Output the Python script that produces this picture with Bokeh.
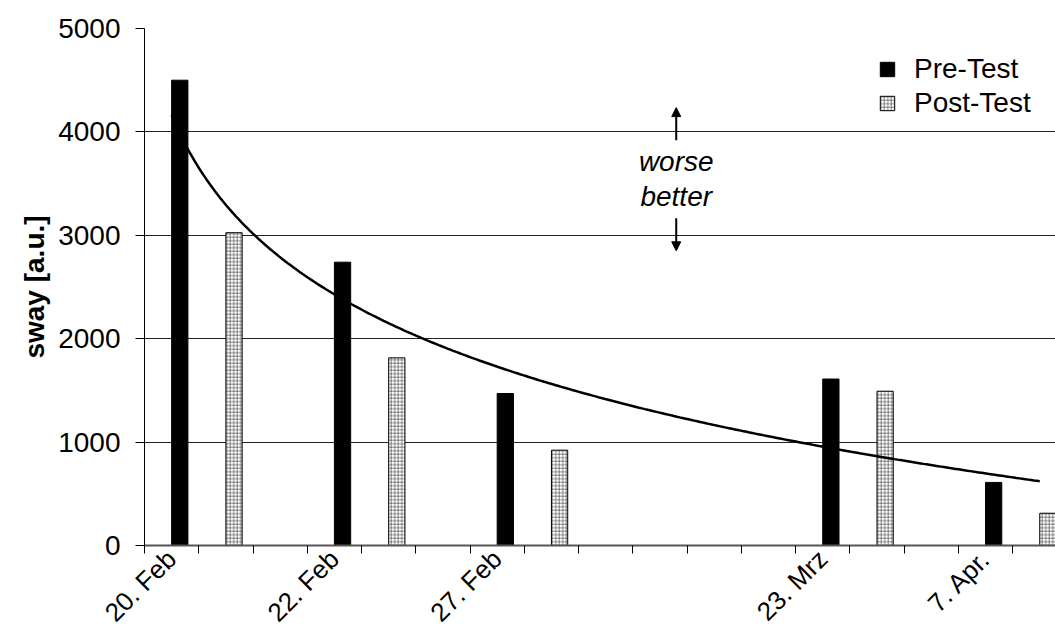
import math
import numpy as np
from bokeh.plotting import figure
from bokeh.models import (Range1d, FixedTicker, Legend, LegendItem, Arrow, NormalHead,
                          Label)
from bokeh.embed import file_html
from bokeh.resources import INLINE

# ---- data ----
n_categories = 17
pre_index = [0, 3, 6, 12, 15]
pre_values = [4500, 2740, 1470, 1610, 610]
post_index = [1, 4, 7, 13, 16]
post_values = [3025, 1815, 922, 1492, 312]
tick_positions = [0, 3, 6, 12, 15]
tick_labels = ["20. Feb", "22. Feb", "27. Feb", "23. Mrz", "7. Apr."]
y_ticks = [0, 1000, 2000, 3000, 4000, 5000]
# Excel logarithmic trendline y = intercept + slope * ln(x), x = 1..17
trend_intercept = 4160
trend_slope = -1249

FONT = "Liberation Sans"
FS = "28px"

p = figure(width=1055, height=641, output_backend="svg", toolbar_location=None,
           x_range=Range1d(-0.5, 16.29), y_range=Range1d(0, 5000),
           min_border_left=144, min_border_right=0, min_border_top=28,
           min_border_bottom=95)
p.outline_line_color = None
p.background_fill_color = "white"

bar_w = 0.3
pre = p.vbar(x=[i + bar_w / 2 for i in pre_index], top=pre_values, width=bar_w,
             fill_color="black", line_color="black", line_width=1)
post = p.vbar(x=[i + bar_w / 2 for i in post_index], top=post_values, width=bar_w,
              fill_color="white", line_color="black", line_width=1,
              hatch_pattern="+", hatch_color="#333333", hatch_scale=3.5, hatch_weight=0.6)

xs = np.linspace(0, n_categories - 1, 300)
ys = trend_intercept + trend_slope * np.log(xs + 1)
p.line(xs, ys, line_color="black", line_width=2.5)

# grid
p.xgrid.visible = False
p.ygrid.ticker = FixedTicker(ticks=y_ticks)
p.ygrid.grid_line_color = "#222222"
p.ygrid.grid_line_width = 1

# y axis
p.yaxis.ticker = FixedTicker(ticks=y_ticks)
p.yaxis.axis_label = "sway [a.u.]"
p.yaxis.axis_label_text_font = FONT
p.yaxis.axis_label_text_font_size = FS
p.yaxis.axis_label_text_font_style = "bold"
p.yaxis.axis_label_text_color = "black"
p.yaxis.axis_label_standoff = 5
p.yaxis.major_label_text_font = FONT
p.yaxis.major_label_text_font_size = FS
p.yaxis.major_label_text_color = "black"
p.yaxis.major_label_standoff = 15
p.yaxis.major_tick_out = 9
p.yaxis.major_tick_in = 0
p.yaxis.minor_tick_line_color = None
p.yaxis.axis_line_color = "black"
p.yaxis.major_tick_line_color = "black"

# x axis
p.xaxis.ticker = FixedTicker(ticks=tick_positions,
                             minor_ticks=[i - 0.5 for i in range(n_categories)])
p.xaxis.major_label_overrides = {pos: lab for pos, lab in zip(tick_positions, tick_labels)}
p.xaxis.major_label_orientation = math.pi / 4
p.xaxis.major_label_text_font = FONT
p.xaxis.major_label_text_font_size = "26px"
p.xaxis.major_label_text_color = "black"
p.xaxis.major_label_standoff = 1
p.xaxis.major_tick_out = 0
p.xaxis.major_tick_in = 0
p.xaxis.minor_tick_out = 8
p.xaxis.minor_tick_in = 0
p.xaxis.minor_tick_line_color = "black"
p.xaxis.axis_line_color = "#555555"
p.xaxis.axis_line_width = 2

# annotation: worse / better
ax = 9.3
p.add_layout(Arrow(end=NormalHead(size=9, fill_color="black", line_color="black"),
                   x_start=ax, y_start=3919, x_end=ax, y_end=4235,
                   line_color="black", line_width=2))
p.add_layout(Arrow(end=NormalHead(size=9, fill_color="black", line_color="black"),
                   x_start=ax, y_start=3166, x_end=ax, y_end=2850,
                   line_color="black", line_width=2))
p.add_layout(Label(x=ax, y=3715, text="worse", text_align="center", text_baseline="alphabetic",
                   text_font=FONT, text_font_size=FS, text_font_style="italic",
                   text_color="black"))
p.add_layout(Label(x=ax, y=3380, text="better", text_align="center", text_baseline="alphabetic",
                   text_font=FONT, text_font_size=FS, text_font_style="italic",
                   text_color="black"))

legend = Legend(items=[LegendItem(label="Pre-Test", renderers=[pre]),
                       LegendItem(label="Post-Test", renderers=[post])],
                location=(734, 426))
legend.label_text_font = FONT
legend.label_text_font_size = FS
legend.label_text_color = "black"
legend.glyph_width = 18
legend.glyph_height = 18
legend.label_standoff = 18
legend.spacing = 2
legend.padding = 0
legend.margin = 0
legend.border_line_color = None
legend.background_fill_alpha = 0
p.add_layout(legend)

open("out.html", "w").write(file_html(p, INLINE))
